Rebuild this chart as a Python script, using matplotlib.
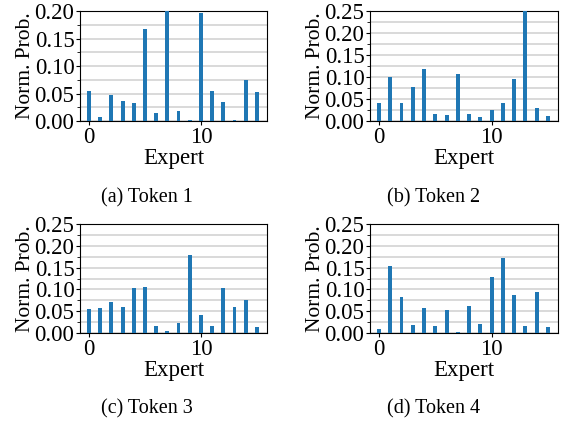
import numpy as np
import matplotlib.pyplot as plt
from matplotlib.ticker import MultipleLocator

plt.rcParams["font.family"] = ["Liberation Serif", "DejaVu Serif"]
plt.rcParams["mathtext.fontset"] = "stix"

experts = np.arange(16)
token1 = [0.054, 0.008, 0.048, 0.037, 0.033, 0.167, 0.015, 0.200,
          0.019, 0.002, 0.197, 0.054, 0.035, 0.001, 0.075, 0.052]
token2 = [0.042, 0.100, 0.042, 0.077, 0.118, 0.017, 0.014, 0.107,
          0.017, 0.010, 0.026, 0.042, 0.095, 0.250, 0.030, 0.012]
token3 = [0.055, 0.057, 0.071, 0.060, 0.103, 0.106, 0.016, 0.004,
          0.024, 0.178, 0.041, 0.016, 0.103, 0.060, 0.075, 0.014]
token4 = [0.009, 0.154, 0.082, 0.018, 0.057, 0.016, 0.053, 0.003,
          0.062, 0.020, 0.128, 0.172, 0.087, 0.016, 0.094, 0.014]
captions = ["(a) Token 1", "(b) Token 2", "(c) Token 3", "(d) Token 4"]
ymaxes = [0.20, 0.25, 0.25, 0.25]

fig = plt.figure(figsize=(5.61, 4.21), dpi=100)
W, H = 561, 421
# axes boxes in pixels: left, top, right, bottom
boxes = [(80, 11, 267, 121), (370, 11, 558, 121),
         (80, 224, 267, 333), (370, 224, 558, 333)]
cap_x = [147, 434, 147, 434]
cap_y = [198, 198, 409, 409]

for i, vals in enumerate([token1, token2, token3, token4]):
    l, t, r, b = boxes[i]
    ax = fig.add_axes([l / W, 1 - b / H, (r - l) / W, (b - t) / H])
    ax.bar(experts, vals, width=0.35, color="#1f77b4", zorder=3)
    ax.set_xlim(-0.8, 15.9)
    ax.set_ylim(0, ymaxes[i])
    ax.yaxis.set_major_locator(MultipleLocator(0.05))
    ax.yaxis.set_minor_locator(MultipleLocator(0.025))
    ax.set_xticks([0, 10])
    ax.grid(axis="y", which="both", color="#d0d0d0", linewidth=1.1, zorder=0)
    ax.set_axisbelow(True)
    ax.tick_params(labelsize=16.5, length=3, pad=1)
    ax.tick_params(which="minor", length=2)
    ax.set_xlabel("Expert", fontsize=16.5, labelpad=0)
    ax.set_ylabel("Norm. Prob.", fontsize=15.5, labelpad=0)
    for s in ax.spines.values():
        s.set_linewidth(0.8)
    fig.text(cap_x[i] / W, 1 - cap_y[i] / H, captions[i], fontsize=14.5,
             ha="center", va="center")

fig.savefig("out.png", dpi=100)
